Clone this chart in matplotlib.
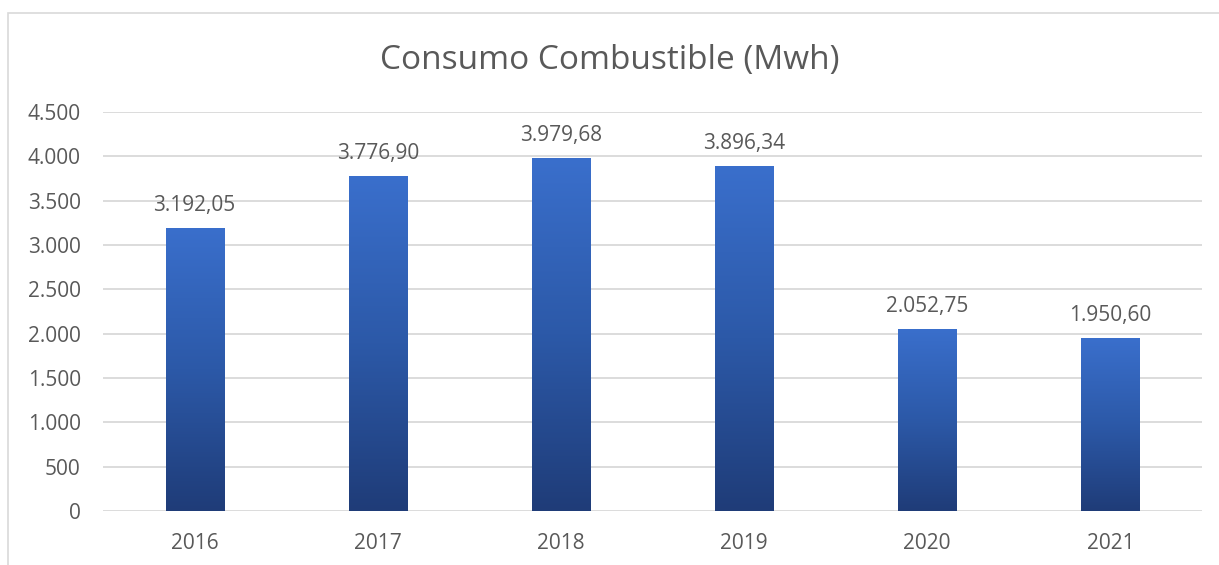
import matplotlib
matplotlib.use("Agg")
import matplotlib.pyplot as plt
import numpy as np
from matplotlib.patches import Rectangle
from matplotlib.colors import LinearSegmentedColormap

years = ["2016", "2017", "2018", "2019", "2020", "2021"]
values = [3192.05, 3776.90, 3979.68, 3896.34, 2052.75, 1950.60]
value_labels = ["3.192,05", "3.776,90", "3.979,68", "3.896,34", "2.052,75", "1.950,60"]
yticks = [0, 500, 1000, 1500, 2000, 2500, 3000, 3500, 4000, 4500]
ytick_labels = ["0", "500", "1.000", "1.500", "2.000", "2.500", "3.000", "3.500", "4.000", "4.500"]
title = "Consumo Combustible (Mwh)"

FONT = "Open Sans"
TXT = "#595959"
plt.rcParams["font.family"] = [FONT, "DejaVu Sans"]

W, H = 1219, 565
fig = plt.figure(figsize=(W / 100, H / 100), dpi=100)
fig.patch.set_facecolor("white")

# outer chart border
fig.add_artist(Rectangle((8 / W, -0.01), 1.2, (565 - 13) / H + 0.01,
                         transform=fig.transFigure, fill=False,
                         edgecolor="#d9d9d9", linewidth=1.2))

ax = fig.add_axes([103 / W, 1 - 511 / H, (1202 - 103) / W, (511 - 112) / H])
ax.set_xlim(-0.5, len(years) - 0.5)
ax.set_ylim(0, 4500)
for s in ax.spines.values():
    s.set_visible(False)
ax.set_yticks(yticks)
ax.set_yticklabels(ytick_labels)
ax.set_xticks(range(len(years)))
ax.set_xticklabels(years)
ax.tick_params(axis="both", length=0, labelsize=15, labelcolor=TXT)
ax.tick_params(axis="y", pad=16)
ax.tick_params(axis="x", pad=16)
ax.grid(axis="y", color="#d9d9d9", linewidth=1.3)
ax.set_axisbelow(True)

cmap = LinearSegmentedColormap.from_list("g", ["#1f3c78", "#2c59a8", "#3a6fcc"])
grad = np.linspace(0, 1, 256).reshape(-1, 1)
bw = 0.317
bars = ax.bar(range(len(years)), values, width=bw, color="none", edgecolor="none", zorder=2)
for b, v, lab in zip(bars, values, value_labels):
    x0 = b.get_x()
    im = ax.imshow(grad, cmap=cmap, aspect="auto", origin="lower",
                   extent=(x0, x0 + bw, 0, v), zorder=2, interpolation="bicubic")
    im.set_clip_path(b)
    ax.annotate(lab, (b.get_x() + bw / 2, v), xytext=(0, 16), textcoords="offset points",
                ha="center", va="center", fontsize=15, color=TXT)
ax.set_xlim(-0.5, len(years) - 0.5)
ax.set_ylim(0, 4500)

fig.text(0.5, 1 - 61 / H, title, ha="center", va="center", fontsize=24, color=TXT)

fig.savefig("out.png", dpi=100, facecolor="white")
